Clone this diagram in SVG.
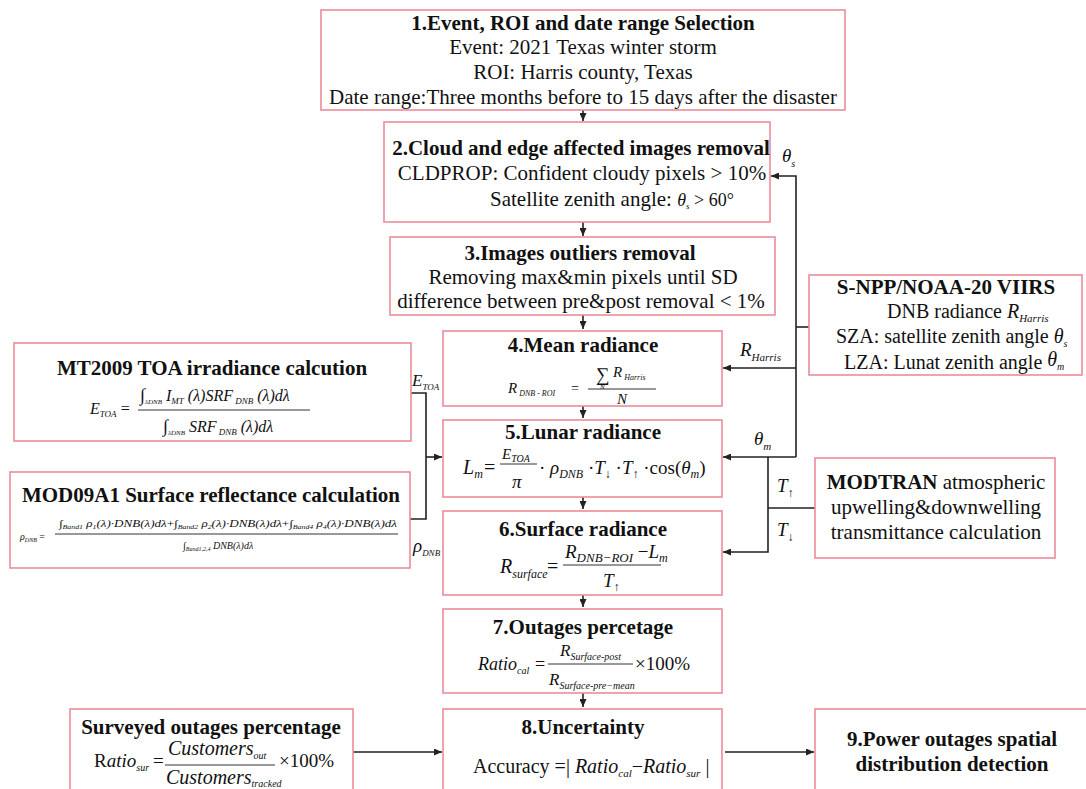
<svg xmlns="http://www.w3.org/2000/svg" width="1086" height="789" viewBox="0 0 1086 789" font-family="'Liberation Serif', 'Times New Roman', 'DejaVu Serif', serif">
<style>
.box{fill:#fff;stroke:#ec8c9a;stroke-width:1.6}
text{fill:#111}
.h{font-size:21px;font-weight:bold;text-anchor:middle}
.r{font-size:21px}
.c{text-anchor:middle}
.i{font-style:italic}
.ln{stroke:#222;stroke-width:1.6;fill:none}
.fl{stroke:#333;stroke-width:1}
</style>
<defs>
<marker id="a" markerUnits="userSpaceOnUse" markerWidth="8" markerHeight="7" refX="8" refY="3.5" orient="auto"><path d="M0,0 L8,3.5 L0,7 z" fill="#222"/></marker>
</defs>
<rect width="1086" height="789" fill="#fff"/>

<g id="connectors">
<path class="ln" d="M583,110 V121" marker-end="url(#a)"/>
<path class="ln" d="M583,222 V236" marker-end="url(#a)"/>
<path class="ln" d="M583,315 V329" marker-end="url(#a)"/>
<path class="ln" d="M583,406 V418" marker-end="url(#a)"/>
<path class="ln" d="M583,497 V509" marker-end="url(#a)"/>
<path class="ln" d="M583,595 V607" marker-end="url(#a)"/>
<path class="ln" d="M583,693 V707" marker-end="url(#a)"/>
<path class="ln" d="M809,327 H796"/>
<path class="ln" d="M796,457 V176 H771" marker-end="url(#a)"/>
<path class="ln" d="M796,368 H723" marker-end="url(#a)"/>
<path class="ln" d="M796,457 H723" marker-end="url(#a)"/>
<path class="ln" d="M815,508 H768"/>
<path class="ln" d="M768,457 V552 H723" marker-end="url(#a)"/>
<path class="ln" d="M411,393 H426 V519 H410"/>
<path class="ln" d="M426,457 H442" marker-end="url(#a)"/>
<path class="ln" d="M353,752 H442" marker-end="url(#a)"/>
<path class="ln" d="M725,752 H814" marker-end="url(#a)"/>
<text class="i" x="782" y="162" font-size="19">θ<tspan font-size="10" dy="5">s</tspan></text>
<text class="i" x="740" y="356" font-size="19">R<tspan font-size="11" dy="5">Harris</tspan></text>
<text class="i" x="754" y="445" font-size="19">θ<tspan font-size="11" dy="5">m</tspan></text>
<text class="i" x="777" y="492" font-size="19">T<tspan font-size="12" dy="5" font-style="normal">↑</tspan></text>
<text class="i" x="777" y="536" font-size="19">T<tspan font-size="12" dy="5" font-style="normal">↓</tspan></text>
<text class="i" x="412" y="386" font-size="17">E<tspan font-size="9" dy="4">TOA</tspan></text>
<text class="i" x="413" y="552" font-size="19">ρ<tspan font-size="9" dy="4">DNB</tspan></text>
</g>

<g id="n1">
<rect class="box" x="321" y="10" width="524" height="100"/>
<text class="h" x="583" y="30">1.Event, ROI and date range Selection</text>
<text class="r c" x="583" y="54">Event: 2021 Texas winter storm</text>
<text class="r c" x="583" y="79">ROI: Harris county, Texas</text>
<text class="r c" x="583" y="104">Date range:Three months before to 15 days after the disaster</text>
</g>

<g id="n2">
<rect class="box" x="384" y="122" width="386" height="100"/>
<text class="h" x="581" y="155">2.Cloud and edge affected images removal</text>
<text class="r c" x="582" y="180">CLDPROP: Confident cloudy pixels &gt; 10%</text>
<text class="r" x="490" y="206">Satellite zenith angle: <tspan class="i" font-size="18">θ</tspan><tspan font-size="9" dy="3" class="i">s</tspan><tspan dy="-3" font-size="18">  &gt; 60°</tspan></text>
</g>

<g id="n3">
<rect class="box" x="390" y="237" width="385" height="78"/>
<text class="h" x="580" y="260">3.Images outliers removal</text>
<text class="r c" x="583" y="284">Removing max&amp;min pixels until SD</text>
<text class="r c" x="581" y="308">difference between pre&amp;post removal &lt; 1%</text>
</g>

<g id="n4">
<rect class="box" x="443" y="331" width="279" height="75"/>
<text class="h" x="583" y="352">4.Mean radiance</text>
<text class="i" x="508" y="393" font-size="15">R<tspan font-size="8" dy="3"> DNB  - ROI</tspan></text>
<text x="571" y="393" font-size="14">=</text>
<text x="596" y="381" font-size="19">∑</text>
<text class="i" x="600" y="389" font-size="7">N</text>
<text class="i" x="613" y="377" font-size="15">R<tspan font-size="8" dy="3"> Harris</tspan></text>
<line class="fl" x1="588" y1="389" x2="656" y2="389"/>
<text class="i" x="617" y="404" font-size="15">N</text>
</g>

<g id="n5">
<rect class="box" x="443" y="420" width="279" height="77"/>
<text class="h" x="583" y="439">5.Lunar radiance</text>
<text class="i" x="463" y="474" font-size="20">L<tspan font-size="12" dy="4">m</tspan></text>
<text x="484" y="474" font-size="20">=</text>
<text class="i" x="502" y="459" font-size="15">E<tspan font-size="10" dy="3">TOA</tspan></text>
<line class="fl" x1="500" y1="464" x2="537" y2="464"/>
<text class="i" x="512" y="488" font-size="19">π</text>
<text x="539" y="474" font-size="19">· <tspan class="i">ρ</tspan><tspan class="i" font-size="12" dy="4">DNB</tspan><tspan dy="-4"> ·</tspan><tspan class="i">T</tspan><tspan font-size="12" dy="4">↓</tspan><tspan dy="-4"> ·</tspan><tspan class="i">T</tspan><tspan font-size="12" dy="4">↑</tspan><tspan dy="-4"> ·cos(</tspan><tspan class="i">θ</tspan><tspan class="i" font-size="12" dy="4">m</tspan><tspan dy="-4">)</tspan></text>
</g>

<g id="n6">
<rect class="box" x="443" y="511" width="279" height="84"/>
<text class="h" x="583" y="536">6.Surface radiance</text>
<text class="i" x="500" y="573" font-size="20">R<tspan font-size="12" dy="5">surface</tspan></text>
<text x="547" y="573" font-size="20">=</text>
<text class="i" x="565" y="558" font-size="19">R<tspan font-size="13" dy="4">DNB−ROI</tspan><tspan dy="-4" font-style="normal"> −</tspan>L<tspan font-size="12" dy="4">m</tspan></text>
<line class="fl" x1="563" y1="565" x2="661" y2="565"/>
<text class="i" x="603" y="587" font-size="19">T<tspan font-size="12" dy="4" font-style="normal">↑</tspan></text>
</g>

<g id="n7">
<rect class="box" x="443" y="609" width="279" height="84"/>
<text class="h" x="583" y="634">7.Outages percetage</text>
<text class="i" x="478" y="670" font-size="18">Ratio<tspan font-size="10" dy="4">cal</tspan></text>
<text x="535" y="670" font-size="18">=</text>
<text class="i" x="560" y="656" font-size="17">R<tspan font-size="10" dy="4">Surface-post</tspan></text>
<line class="fl" x1="548" y1="664" x2="633" y2="664"/>
<text class="i" x="549" y="685" font-size="17">R<tspan font-size="10" dy="4">Surface-pre−mean</tspan></text>
<text x="635" y="670" font-size="19">×100%</text>
</g>

<g id="n8">
<rect class="box" x="443" y="709" width="279" height="90"/>
<text class="h" x="583" y="734">8.Uncertainty</text>
<text x="473" y="773" font-size="20">Accuracy =| <tspan class="i">Ratio</tspan><tspan class="i" font-size="11" dy="4">cal</tspan><tspan dy="-4">−</tspan><tspan class="i">Ratio</tspan><tspan class="i" font-size="11" dy="4">sur</tspan><tspan dy="-4"> |</tspan></text>
</g>

<g id="n9">
<rect class="box" x="815" y="709" width="290" height="90"/>
<text class="h" x="952" y="746">9.Power outages spatial</text>
<text class="h" x="952" y="771">distribution detection</text>
</g>

<g id="survey">
<rect class="box" x="70" y="709" width="283" height="90"/>
<text class="h" x="211" y="734">Surveyed outages percentage</text>
<text x="94" y="767" font-size="19">R<tspan class="i">atio</tspan><tspan class="i" font-size="10" dy="4">sur</tspan></text>
<text x="153" y="767" font-size="19">=</text>
<text class="i" x="168" y="755" font-size="20">Customers<tspan font-size="10" dy="4">out</tspan></text>
<line class="fl" x1="165" y1="765" x2="275" y2="765"/>
<text class="i" x="166" y="784" font-size="20">Customers<tspan font-size="10" dy="3">tracked</tspan></text>
<text x="279" y="767" font-size="19">×100%</text>
</g>

<g id="mt2009">
<rect class="box" x="14" y="343" width="397" height="98"/>
<text class="h" x="212" y="375">MT2009 TOA irradiance calcution</text>
<text class="i" x="90" y="414" font-size="16">E<tspan font-size="9" dy="3">TOA</tspan><tspan font-style="normal" dy="-3">  =</tspan></text>
<text class="i" x="140" y="401" font-size="16"><tspan font-style="normal" font-size="18">∫</tspan><tspan font-size="7" dy="3">λDNB</tspan><tspan dy="-3"> I</tspan><tspan font-size="9" dy="3">MT</tspan><tspan dy="-3"> (λ)SRF</tspan><tspan font-size="9" dy="3"> DNB</tspan><tspan dy="-3"> (λ)dλ</tspan></text>
<line class="fl" x1="138" y1="410" x2="310" y2="410"/>
<text class="i" x="163" y="432" font-size="16"><tspan font-style="normal" font-size="18">∫</tspan><tspan font-size="7" dy="3">λDNB</tspan><tspan dy="-3"> SRF</tspan><tspan font-size="9" dy="3"> DNB</tspan><tspan dy="-3"> (λ)dλ</tspan></text>
</g>

<g id="mod09">
<rect class="box" x="10" y="472" width="400" height="96"/>
<text class="h" x="211" y="502">MOD09A1  Surface reflectance calculation</text>
<text class="i" x="20" y="540" font-size="10">ρ<tspan font-size="6" dy="2">DNB</tspan><tspan dy="-2" font-style="normal"> =</tspan></text>
<text class="i" x="59" y="527" font-size="10" textLength="338" lengthAdjust="spacingAndGlyphs"><tspan font-style="normal">∫</tspan><tspan font-size="6" dy="2">Band1</tspan><tspan dy="-2"> ρ</tspan><tspan font-size="6" dy="2">1</tspan><tspan dy="-2">(λ)·DNB(λ)dλ</tspan><tspan font-style="normal">+</tspan><tspan font-style="normal">∫</tspan><tspan font-size="6" dy="2">Band2</tspan><tspan dy="-2"> ρ</tspan><tspan font-size="6" dy="2">2</tspan><tspan dy="-2">(λ)·DNB(λ)dλ</tspan><tspan font-style="normal">+</tspan><tspan font-style="normal">∫</tspan><tspan font-size="6" dy="2">Band4</tspan><tspan dy="-2"> ρ</tspan><tspan font-size="6" dy="2">4</tspan><tspan dy="-2">(λ)·DNB(λ)dλ</tspan></text>
<line class="fl" x1="55" y1="534" x2="398" y2="534"/>
<text class="i" x="183" y="549" font-size="10"><tspan font-style="normal">∫</tspan><tspan font-size="6" dy="2">Band1,2,4</tspan><tspan dy="-2"> DNB(λ)dλ</tspan></text>
</g>

<g id="snpp">
<rect class="box" x="809" y="275" width="273" height="100"/>
<text class="h" x="946" y="294">S-NPP/NOAA-20 VIIRS</text>
<text x="887" y="318" font-size="20">DNB radiance <tspan class="i">R</tspan><tspan class="i" font-size="11" dy="4">Harris</tspan></text>
<text x="836" y="343" font-size="20">SZA: satellite zenith angle <tspan class="i">θ</tspan><tspan class="i" font-size="10" dy="4">s</tspan></text>
<text x="844" y="369" font-size="20">LZA: Lunat zenith angle <tspan class="i" dy="-3">θ</tspan><tspan class="i" font-size="10" dy="4">m</tspan></text>
</g>

<g id="modtran">
<rect class="box" x="815" y="458" width="240" height="100"/>
<text class="r" x="936" y="489" text-anchor="middle"><tspan font-weight="bold">MODTRAN</tspan> atmospheric</text>
<text class="r c" x="936" y="514">upwelling&amp;downwelling</text>
<text class="r c" x="936" y="539">transmittance calculation</text>
</g>
</svg>
